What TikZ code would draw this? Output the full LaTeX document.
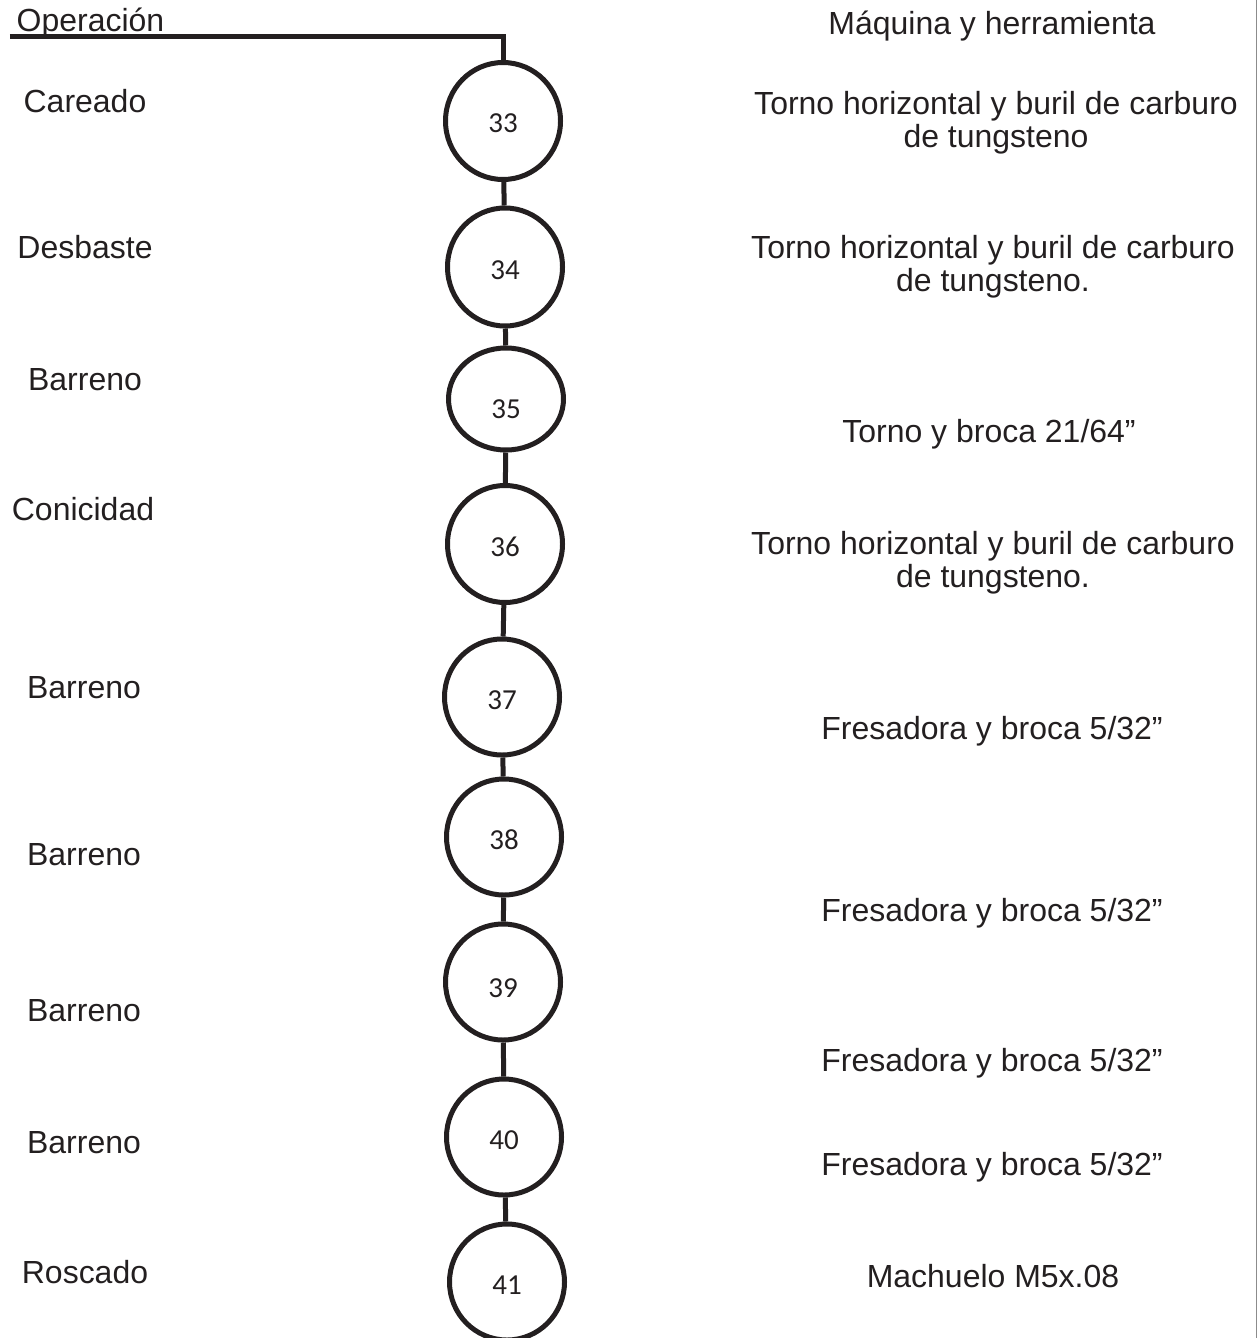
\documentclass[tikz,border=0pt]{standalone}
\usepackage{fontspec}
\setmainfont{Liberation Sans}
\newfontfamily\numfont{Carlito}
\usetikzlibrary{shapes.geometric}

\definecolor{tinta}{HTML}{231F20}

\tikzset{
	paso/.style = {draw = tinta, ellipse, line width = 0.1cm, minimum width = 2.3cm, minimum height = 2.32cm, inner sep = 0pt, text height = 0.48cm, text depth = 0cm, text = tinta, font = \numfont\fontsize{16.5}{18}\selectfont},
	etiqueta/.style = {anchor = base, text = tinta, font = \fontsize{18.2}{18.8}\selectfont},
	liga/.style = {draw = tinta, line width = 0.1cm},
}

\begin{document}
\begin{tikzpicture}
	\useasboundingbox (0,0) rectangle (25.18,-26.76);
	\draw [black!45, line width = 0.6pt] (25.13,0) -- (25.13,-26.76);

	% encabezados
	\node [etiqueta, anchor = base west] (oper) at (0.21,-0.64) {Operación};
	\node [etiqueta] (maq) at (19.84,-0.70) {Máquina y herramienta};

	% operaciones
	\node [paso, minimum height = 2.34cm] (p33) at (10.06,-2.42) {33};
	\node [paso, minimum height = 2.36cm] (p34) at (10.10,-5.34) {34};
	\node [paso, minimum height = 2.04cm, text height = 0.78cm] (p35) at (10.12,-7.98) {35};
	\node [paso, minimum height = 2.34cm] (p36) at (10.10,-10.88) {36};
	\node [paso] (p37) at (10.04,-13.94) {37};
	\node [paso] (p38) at (10.08,-16.74) {38};
	\node [paso, text height = 0.62cm] (p39) at (10.06,-19.64) {39};
	\node [paso] (p40) at (10.08,-22.74) {40};
	\node [paso] (p41) at (10.14,-25.64) {41};

	\coordinate (inicio) at (0.2,-0.74);
	\draw [liga] (inicio) -| (p33.north);
	\draw [liga] (p33) -- (p34);
	\draw [liga] (p34) -- (p35);
	\draw [liga] (p35) -- (p36);
	\draw [liga] (p36) -- (p37);
	\draw [liga] (p37) -- (p38);
	\draw [liga] (p38) -- (p39);
	\draw [liga] (p39) -- (p40);
	\draw [liga] (p40) -- (p41);

	% nombres de operacion
	\node [etiqueta] (op33) at (1.70,-2.24) {Careado};
	\node [etiqueta] (op34) at (1.70,-5.16) {Desbaste};
	\node [etiqueta] (op35) at (1.70,-7.80) {Barreno};
	\node [etiqueta] (op36) at (1.66,-10.40) {Conicidad};
	\node [etiqueta] (op37) at (1.68,-13.96) {Barreno};
	\node [etiqueta] (op38) at (1.68,-17.30) {Barreno};
	\node [etiqueta] (op39) at (1.68,-20.42) {Barreno};
	\node [etiqueta] (op40) at (1.68,-23.06) {Barreno};
	\node [etiqueta] (op41) at (1.70,-25.66) {Roscado};

	% maquinas
	\node [etiqueta, anchor = center, align = center] (mq33) at (19.92,-2.46) {Torno horizontal y buril de carburo\\de tungsteno};
	\node [etiqueta, anchor = center, align = center] (mq34) at (19.86,-5.34) {Torno horizontal y buril de carburo\\de tungsteno.};
	\node [etiqueta] (mq35) at (19.78,-8.84) {Torno y broca 21/64”};
	\node [etiqueta, anchor = center, align = center] (mq36) at (19.86,-11.26) {Torno horizontal y buril de carburo\\de tungsteno.};
	\node [etiqueta] (mq37) at (19.84,-14.78) {Fresadora y broca 5/32”};
	\node [etiqueta] (mq38) at (19.84,-18.42) {Fresadora y broca 5/32”};
	\node [etiqueta] (mq39) at (19.84,-21.42) {Fresadora y broca 5/32”};
	\node [etiqueta] (mq40) at (19.84,-23.50) {Fresadora y broca 5/32”};
	\node [etiqueta] (mq41) at (19.86,-25.74) {Machuelo M5x.08};
\end{tikzpicture}
\end{document}
